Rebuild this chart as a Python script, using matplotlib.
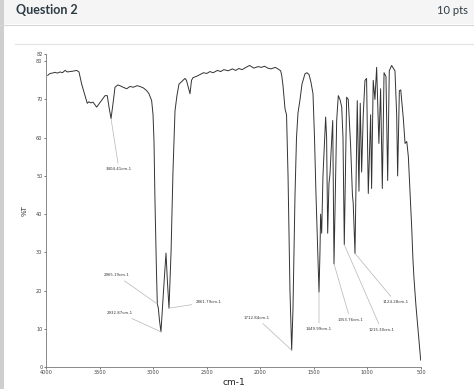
import matplotlib
matplotlib.use("Agg")
import matplotlib.pyplot as plt
from matplotlib.patches import Rectangle
from matplotlib.lines import Line2D

W, H = 474, 389

# IR spectrum: wavenumber (cm-1) and %T
wavenumber = [
    3984, 3963, 3940, 3916, 3893, 3869, 3846, 3823, 3800, 3776, 3750, 3713, 3692,
    3667, 3636, 3615, 3600, 3583, 3561, 3527, 3496, 3449, 3428, 3412, 3393, 3372,
    3356, 3330, 3309, 3280, 3247, 3216, 3185, 3150, 3123, 3090, 3060, 3039, 3014,
    3001, 2992, 2983, 2969, 2961, 2952, 2940, 2927, 2903, 2880, 2866, 2852, 2833,
    2815, 2796, 2778, 2759, 2740, 2721, 2703, 2689, 2675, 2656, 2642, 2628, 2600,
    2563, 2530, 2500, 2470, 2440, 2400, 2370, 2340, 2300, 2260, 2230, 2200, 2170,
    2140, 2100, 2060, 2020, 1990, 1960, 1930, 1900, 1860, 1830, 1810, 1800, 1788,
    1769, 1755, 1741, 1723, 1707, 1695, 1676, 1662, 1648, 1629, 1611, 1583, 1564,
    1545, 1527, 1508, 1494, 1480, 1471, 1452, 1443, 1437, 1427, 1415, 1390, 1381,
    1371, 1359, 1349, 1340, 1324, 1312, 1287, 1272, 1256, 1240, 1228, 1216, 1194,
    1179, 1157, 1140, 1133, 1116, 1095, 1079, 1067, 1054, 1039, 1023, 1008, 992,
    970, 961, 946, 930, 914, 893, 877, 861, 845, 827, 811, 796, 774, 743, 727,
    718, 702, 689, 665, 649, 633, 618, 587, 575, 565, 547, 528, 503,
]
transmittance = [
    76.3, 76.8, 76.9, 77.1, 76.9, 77.2, 77.0, 77.6, 77.2, 77.3, 77.4, 77.6, 77.2,
    74.0, 71.0, 69.0, 69.4, 69.1, 69.3, 68.0, 69.2, 71.0, 71.0, 68.0, 65.0, 69.5,
    73.2, 73.8, 73.6, 73.2, 72.8, 73.4, 73.2, 73.6, 73.4, 73.0, 72.3, 71.5, 69.7,
    66.0, 59.0, 43.6, 25.0, 16.5, 15.5, 12.0, 9.2, 20.0, 29.8, 22.0, 15.4, 30.0,
    51.0, 67.0, 71.0, 74.0, 74.5, 75.0, 75.5, 75.0, 73.5, 71.5, 75.0, 75.7, 76.0,
    76.5, 77.0, 76.8, 77.3, 77.0, 77.6, 77.3, 77.8, 77.5, 78.0, 77.6, 78.1, 77.8,
    78.3, 78.9, 78.2, 78.6, 78.4, 78.7, 78.2, 78.0, 78.4, 77.9, 77.5, 76.3, 73.6,
    67.5, 66.0, 50.0, 20.0, 4.4, 15.0, 45.0, 60.0, 66.5, 70.0, 74.0, 76.7, 77.0,
    76.5, 74.5, 71.5, 60.0, 45.0, 36.6, 19.6, 30.0, 40.0, 35.0, 50.0, 65.4, 60.0,
    35.0, 48.0, 50.6, 56.0, 64.5, 27.0, 64.5, 71.0, 70.0, 68.0, 60.0, 32.0, 70.6,
    70.0, 58.0, 45.0, 43.0, 29.7, 69.7, 46.0, 69.0, 51.0, 66.0, 75.0, 75.5, 45.4,
    66.0, 46.7, 75.0, 70.0, 78.4, 58.5, 72.8, 46.7, 77.0, 76.0, 48.8, 77.5, 78.9,
    77.5, 66.0, 50.0, 72.3, 72.5, 65.0, 58.5, 59.0, 55.0, 36.6, 28.0, 23.0, 16.0,
    10.0, 1.8,
]

# peak labels: text, peak position (wavenumber, %T), label position (wavenumber, %T)
peak_labels = ["3404.41cm-1", "2965.19cm-1", "2932.87cm-1", "2861.79cm-1",
               "1712.84cm-1", "1449.99cm-1", "1353.76cm-1", "1215.30cm-1",
               "1124.28cm-1"]
peak_xy = [(3393, 65.0), (2961, 16.5), (2927, 9.2), (2852, 15.4), (1707, 4.4),
           (1452, 19.6), (1312, 27.0), (1216, 32.0), (1116, 29.7)]
label_xy = [(3319, 51.7), (3342, 24.0), (3309, 14.1), (2479, 17.0), (2035, 12.9),
            (1452, 9.9), (1160, 12.3), (869, 9.7), (738, 17.0)]

x_ticks = [4000, 3500, 3000, 2500, 2000, 1500, 1000, 500]
y_ticks = [0, 10, 20, 30, 40, 50, 60, 70, 80, 82]
y_ticklabels = ["0", "10", "20", "30", "40", "50", "60", "70", "80", "82"]

fig = plt.figure(figsize=(W / 100, H / 100), dpi=100)
fig.patch.set_facecolor("white")

# page header
fig.add_artist(Rectangle((0, 1 - 24 / H), 1, 24 / H, transform=fig.transFigure,
                         facecolor="#f5f5f5", edgecolor="none", zorder=0))
fig.add_artist(Line2D([0, 1], [1 - 24.5 / H, 1 - 24.5 / H], transform=fig.transFigure,
                      color="#d6d6d6", lw=0.8))
fig.add_artist(Rectangle((0, 0), 3.5 / W, 1, transform=fig.transFigure,
                         facecolor="#cfcfcf", edgecolor="none", zorder=1))
fig.add_artist(Line2D([15 / W, 1], [1 - 44 / H, 1 - 44 / H], transform=fig.transFigure,
                      color="#e3e3e3", lw=0.8))
fig.text(16 / W, 1 - 10.5 / H, "Question 2", fontsize=9, fontweight="bold",
         family="Lato", color="#2d3b45", va="center", ha="left")
fig.text(468 / W, 1 - 10.5 / H, "10 pts", fontsize=8, family="Lato",
         color="#2d3b45", va="center", ha="right")

x0, x1 = 46, 421
y0, y1 = 367, 53.6
ax = fig.add_axes([x0 / W, 1 - y0 / H, (x1 - x0) / W, (y0 - y1) / H])
ax.plot(wavenumber, transmittance, color="#333333", lw=0.7)
ax.set_xlim(4000, 500)
ax.set_ylim(0, 82)
ax.set_xticks(x_ticks)
ax.set_yticks(y_ticks)
ax.set_yticklabels(y_ticklabels)
ax.tick_params(labelsize=3.6, length=1.5, width=0.5, pad=1, colors="#444444")
for s in ["top", "right"]:
    ax.spines[s].set_visible(False)
for s in ["left", "bottom"]:
    ax.spines[s].set_color("#777777")
    ax.spines[s].set_linewidth(0.6)
ax.set_ylabel("%T", fontsize=5, labelpad=6, color="#333333")
ax.set_xlabel("cm-1", fontsize=6.5, labelpad=2, color="#222222")
ax.patch.set_alpha(0)

for txt, pxy, lxy in zip(peak_labels, peak_xy, label_xy):
    ax.annotate(txt, xy=pxy, xytext=lxy, fontsize=2.8, ha="center", va="center",
                color="#333333",
                arrowprops=dict(arrowstyle="-", color="#b5b5b5", lw=0.5,
                                shrinkA=1, shrinkB=0))

fig.savefig("out.png", dpi=100)
